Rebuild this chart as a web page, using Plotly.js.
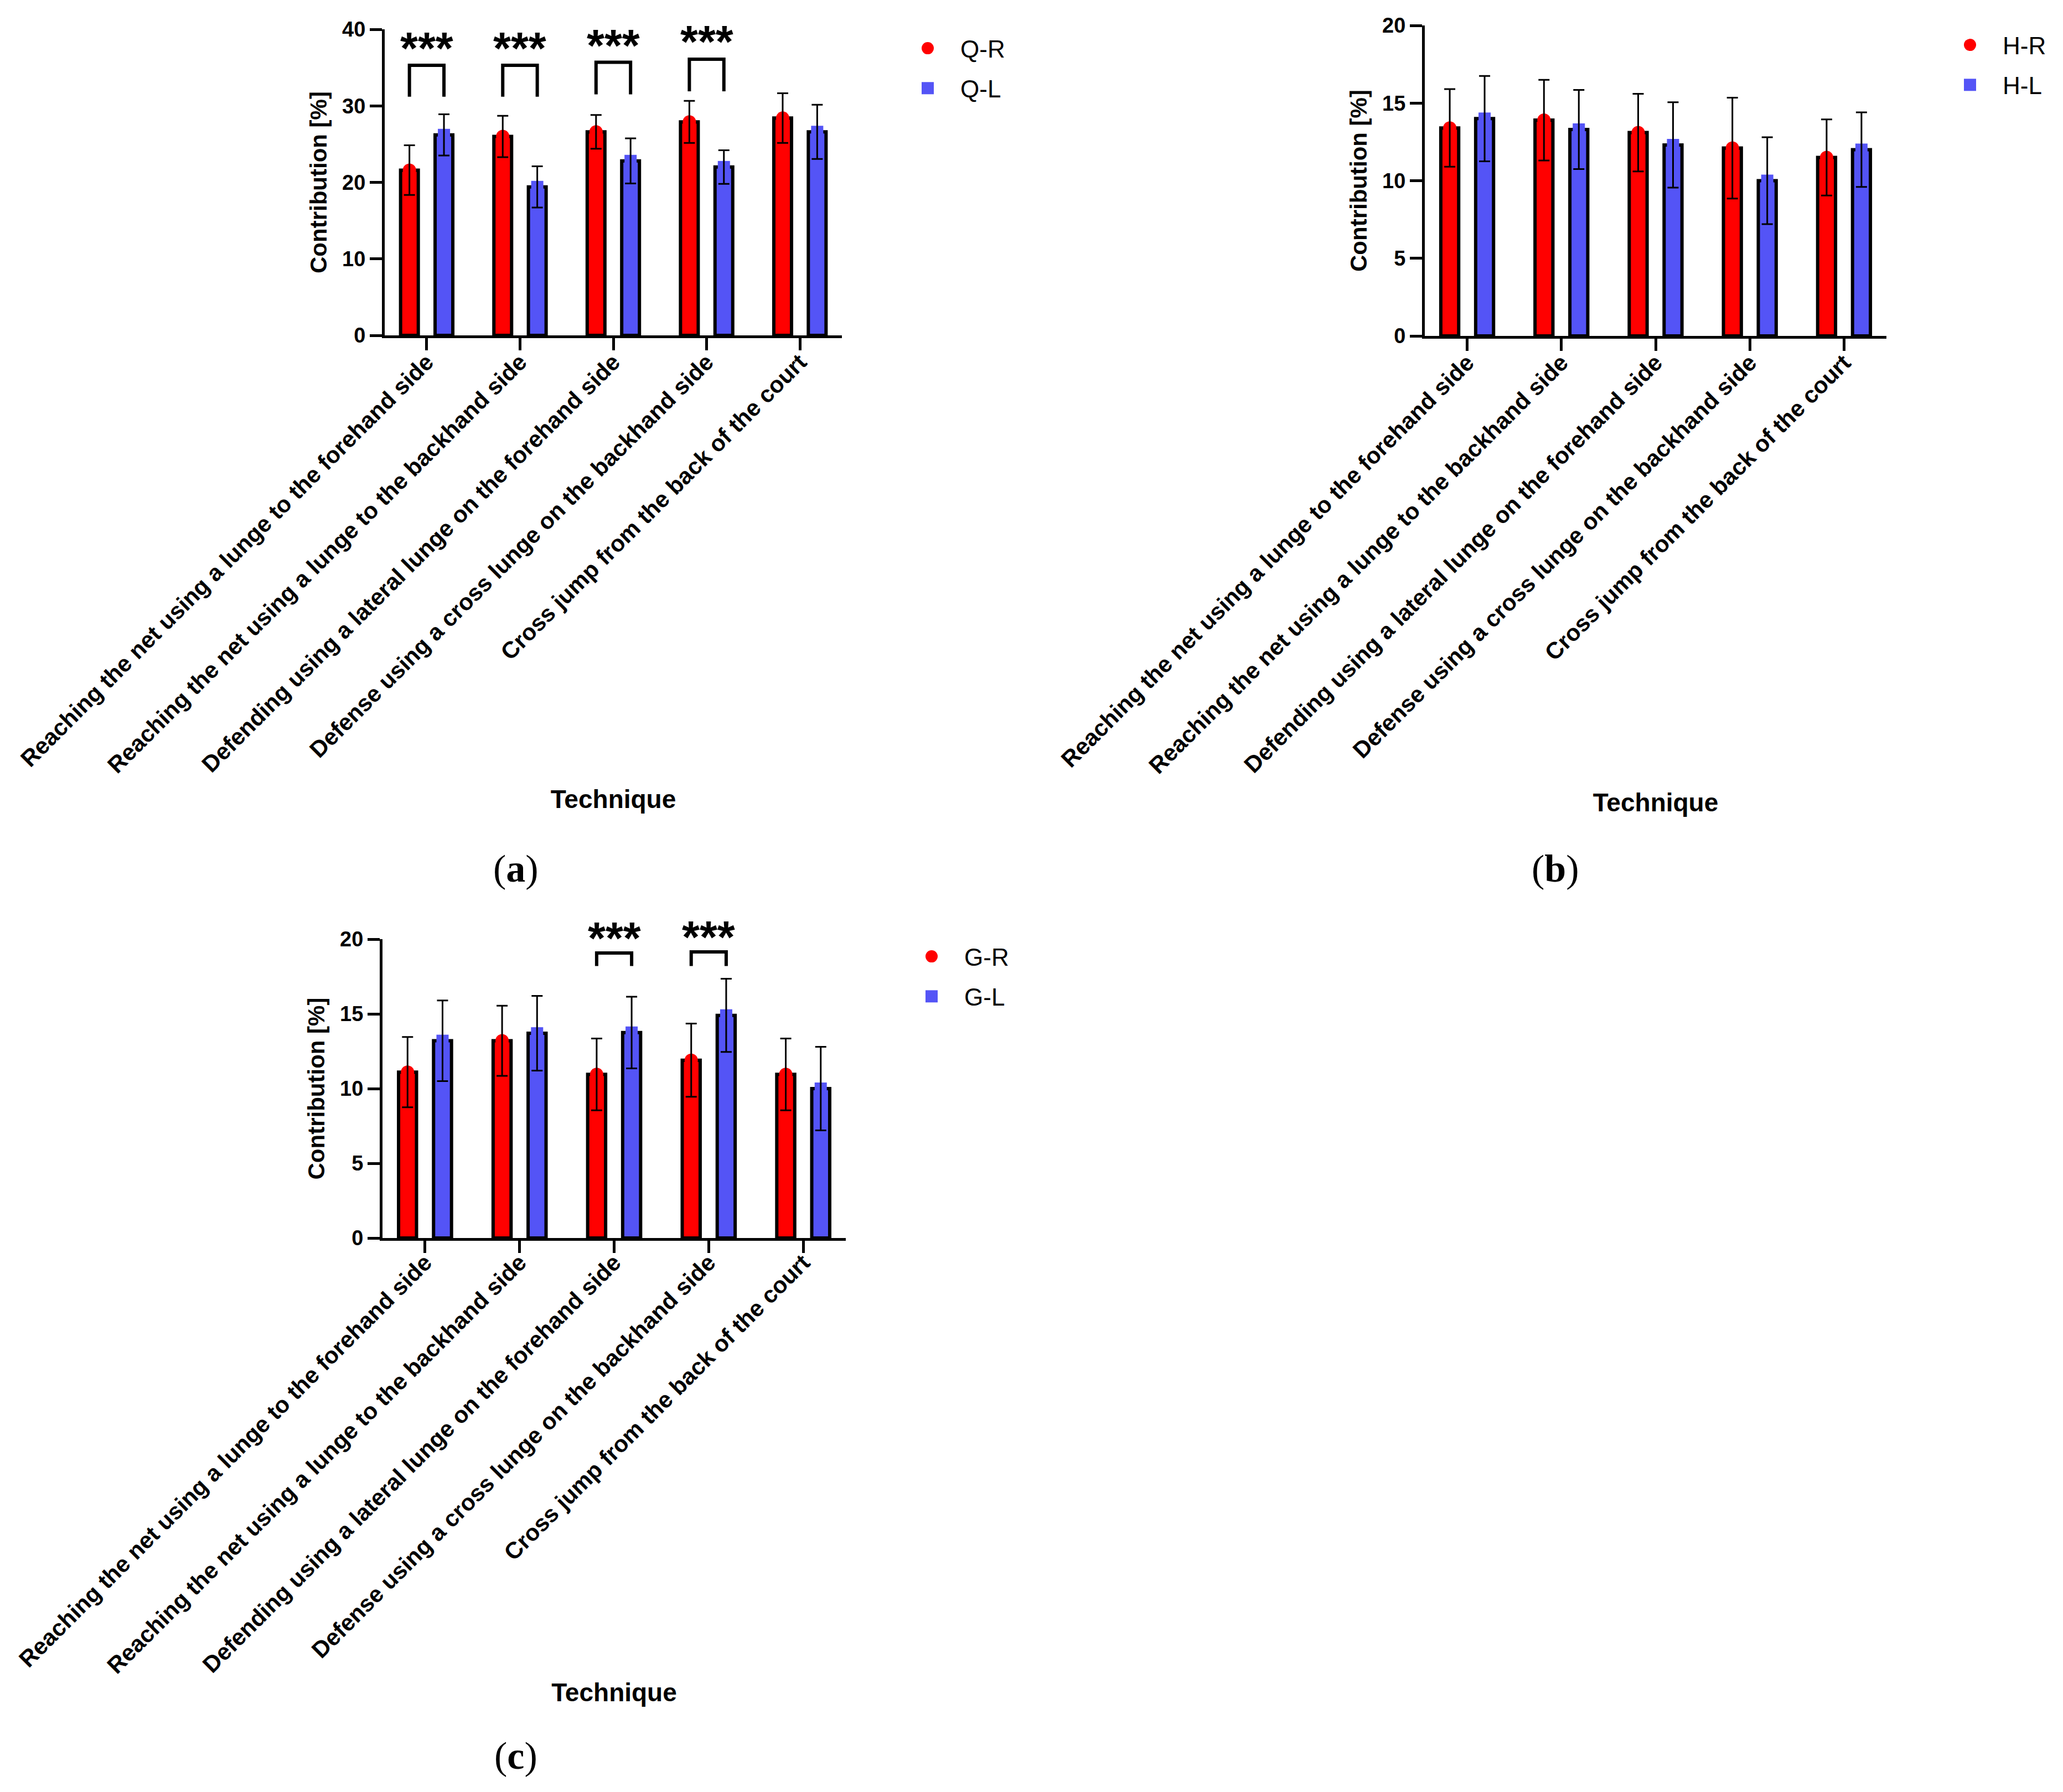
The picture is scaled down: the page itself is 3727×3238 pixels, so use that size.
<!DOCTYPE html>
<html>
<head>
<meta charset="utf-8">
<script src="https://cdn.plot.ly/plotly-3.0.1.min.js"></script>
<style>html,body{margin:0;padding:0;background:#fff;}#chart{width:3727px;height:3238px;}</style>
</head>
<body>
<div id="chart"></div>
<script>
// ---- Data ----
const categories = [
  "Reaching the net using a lunge to the forehand side",
  "Reaching the net using a lunge to the backhand side",
  "Defending using a lateral lunge on the forehand side",
  "Defense using a cross lunge on the backhand side",
  "Cross jump from the back of the court"
];
const yTicksA = [0, 10, 20, 30, 40];
const yTicksBC = [0, 5, 10, 15, 20];

// (a) Quadriceps
const qR   = [21.6, 26.0, 26.6, 27.9, 28.4];
const qRsd = [3.25, 2.7, 2.2, 2.75, 3.25];
const qL   = [26.2, 19.4, 22.8, 22.0, 26.6];
const qLsd = [2.7, 2.7, 2.95, 2.2, 3.55];
// (b) Hamstrings
const hR   = [13.4, 13.9, 13.1, 12.1, 11.5];
const hRsd = [2.5, 2.6, 2.5, 3.25, 2.45];
const hL   = [14.0, 13.3, 12.3, 10.0, 12.0];
const hLsd = [2.75, 2.55, 2.75, 2.8, 2.4];
// (c) Gastrocnemius
const gR   = [11.1, 13.2, 10.95, 11.9, 10.95];
const gRsd = [2.35, 2.35, 2.4, 2.45, 2.4];
const gL   = [13.2, 13.7, 13.75, 14.9, 10.0];
const gLsd = [2.7, 2.5, 2.4, 2.45, 2.8];

// significance brackets (category index, bracket top, leg end, star level)
const qSigIdx  = [0, 1, 2, 3];
const qSigTop  = [35.3, 35.3, 35.7, 36.1];
const qSigLeg  = [31.2, 31.2, 31.5, 31.9];
const qSigStar = [38.0, 38.0, 38.4, 38.85];
const gSigIdx  = [2, 3];
const gSigTop  = [19.07, 19.15];
const gSigLeg  = [18.2, 18.2];
const gSigStar = [20.3, 20.4];
const sigLabel = "***";

// ---- Style ----
const W = 3727, H = 3238;
const RED = "#FF0000", BLUE = "#5454F6";
const FONT = "Liberation Sans, Arial, sans-serif";
const OFF = 0.185, BAR_W = 0.19;

const panels = [
  {id:"a", xa:"x",  ya:"y",  R:qR, Rsd:qRsd, L:qL, Lsd:qLsd, names:["Q-R","Q-L"], leg:"legend",
   top:53, bot:606, maxV:40, sig:{idx:qSigIdx, top:qSigTop, leg:qSigLeg, star:qSigStar}},
  {id:"b", xa:"x2", ya:"y2", R:hR, Rsd:hRsd, L:hL, Lsd:hLsd, names:["H-R","H-L"], leg:"legend2",
   top:46, bot:607, maxV:20, sig:null},
  {id:"c", xa:"x3", ya:"y3", R:gR, Rsd:gRsd, L:gL, Lsd:gLsd, names:["G-R","G-L"], leg:"legend3",
   top:1697, bot:2237, maxV:20, sig:{idx:gSigIdx, top:gSigTop, leg:gSigLeg, star:gSigStar}}
];

const traces = [];
const shapes = [];
const annotations = [];
panels.forEach(p => {
  const xR = categories.map((c, i) => i - OFF);
  const xL = categories.map((c, i) => i + OFF);
  const common = {xaxis: p.xa, yaxis: p.ya, hoverinfo: "skip"};
  traces.push(Object.assign({type:"bar", x:xR, y:p.R, width:BAR_W, showlegend:false,
    marker:{color:RED, line:{color:"#000", width:6}}}, common));
  traces.push(Object.assign({type:"bar", x:xL, y:p.L, width:BAR_W, showlegend:false,
    marker:{color:BLUE, line:{color:"#000", width:6}}}, common));
  traces.push(Object.assign({type:"scatter", mode:"markers", x:xR, y:p.R, name:p.names[0],
    legend:p.leg, legendgroup:p.id+"R", marker:{symbol:"circle", size:24, color:RED}}, common));
  traces.push(Object.assign({type:"scatter", mode:"markers", x:xL, y:p.L, name:p.names[1],
    legend:p.leg, legendgroup:p.id+"L", marker:{symbol:"square", size:22, color:BLUE}}, common));
  traces.push(Object.assign({type:"scatter", mode:"markers", x:xR, y:p.R, showlegend:false,
    marker:{size:1, opacity:0},
    error_y:{type:"data", array:p.Rsd, visible:true, color:"#000", thickness:3, width:10}}, common));
  traces.push(Object.assign({type:"scatter", mode:"markers", x:xL, y:p.L, showlegend:false,
    marker:{size:1, opacity:0},
    error_y:{type:"data", array:p.Lsd, visible:true, color:"#000", thickness:3, width:10}}, common));
  if (p.sig) {
    const pxPerUnit = (p.bot - p.top) / p.maxV;
    p.sig.idx.forEach((ci, k) => {
      const x0 = ci - OFF, x1 = ci + OFF;
      shapes.push({type:"path", xref:p.xa, yref:p.ya,
        path:`M ${x0},${p.sig.leg[k]} L ${x0},${p.sig.top[k]} L ${x1},${p.sig.top[k]} L ${x1},${p.sig.leg[k]}`,
        line:{color:"#000", width:6}});
      // anchor on bracket (inside the axis range), lift to the star level
      annotations.push({xref:p.xa, yref:p.ya, x:ci, y:p.sig.top[k], text:sigLabel, showarrow:false,
        yanchor:"middle", yshift:(p.sig.star[k] - p.sig.top[k]) * pxPerUnit - 6,
        font:{family:FONT, size:82, color:"#000", weight:"bold"}});
    });
  }
});

function xAxis(dom, anchor, lblShift, titleStand) {
  return {domain:dom, anchor:anchor, range:[-0.45, 4.45],
    tickmode:"array", tickvals:categories.map((c,i)=>i), ticktext:categories,
    tickangle:-45, ticks:"outside", ticklen:22, tickwidth:5, tickcolor:"#000",
    ticklabelstandoff:lblShift,
    showline:true, linewidth:5, linecolor:"#000", showgrid:false, zeroline:false,
    tickfont:{family:FONT, size:42, color:"#000", weight:"bold"},
    title:{text:"Technique", standoff:titleStand, font:{family:FONT, size:46, color:"#000", weight:"bold"}},
    automargin:false};
}
function yAxis(dom, anchor, maxV, ticks) {
  return {domain:dom, anchor:anchor, range:[0, maxV], tickmode:"array", tickvals:ticks,
    ticks:"outside", ticklen:22, tickwidth:5, tickcolor:"#000",
    showline:true, linewidth:5, linecolor:"#000", showgrid:false, zeroline:false,
    tickfont:{family:FONT, size:38, color:"#000", weight:"bold"},
    title:{text:"Contribution [%]", standoff:16, font:{family:FONT, size:42, color:"#000", weight:"bold"}},
    automargin:false};
}

const px = v => v / W, py = v => 1 - v / H;

[["(<b>a</b>)", 932, 1569], ["(<b>b</b>)", 2810, 1569], ["(<b>c</b>)", 932, 3172]].forEach(t => {
  annotations.push({xref:"paper", yref:"paper", x:px(t[1]), y:py(t[2]), text:t[0], showarrow:false,
    xanchor:"center", yanchor:"middle",
    font:{family:"Liberation Serif, Times New Roman, serif", size:70, color:"#000"}});
});

function legendCfg(x, ytop) {
  return {x:px(x), y:py(ytop), xanchor:"left", yanchor:"top", bgcolor:"rgba(0,0,0,0)",
    borderwidth:0, tracegroupgap:12, traceorder:"grouped", itemwidth:108,
    font:{family:FONT, size:44, color:"#000"}};
}

const layout = {
  width:W, height:H, margin:{l:0, r:0, t:0, b:0}, paper_bgcolor:"#fff", plot_bgcolor:"#fff",
  barmode:"overlay", showlegend:true,
  xaxis:  xAxis([px(695), px(1521)], "y", -20, 24),
  yaxis:  yAxis([py(606), py(53)], "x", 40, yTicksA),
  xaxis2: xAxis([px(2574), px(3408)], "y2", -20, 29),
  yaxis2: yAxis([py(607), py(46)], "x2", 20, yTicksBC),
  xaxis3: xAxis([px(691), px(1528)], "y3", -24, 0),
  yaxis3: yAxis([py(2237), py(1697)], "x3", 20, yTicksBC),
  legend:  legendCfg(1617, 52),
  legend2: legendCfg(3500, 46),
  legend3: legendCfg(1624, 1693),
  shapes:shapes, annotations:annotations
};

Plotly.newPlot("chart", traces, layout, {staticPlot:true, displayModeBar:false}).then(gd => {
  // enlarge legend symbols (all legends) to match the plotted marker size
  gd.querySelectorAll(".legendpoints path.scatterpts").forEach(el => {
    const t = el.getAttribute("transform") || "";
    if (t.indexOf("scale") < 0) el.setAttribute("transform", t + " scale(1.375)");
  });
});
</script>
</body>
</html>
